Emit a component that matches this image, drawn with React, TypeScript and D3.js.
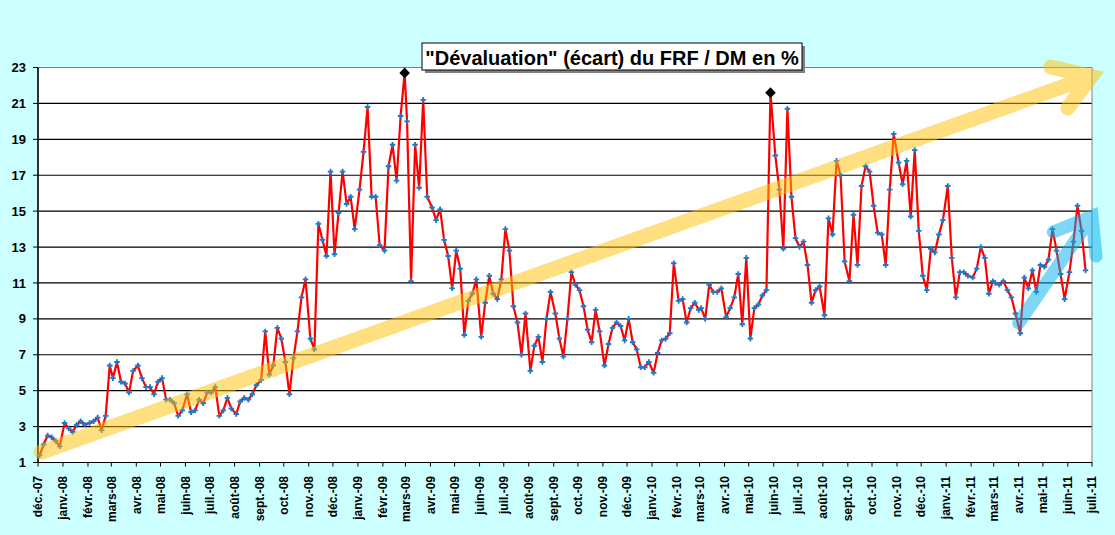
import * as d3 from "d3";

// one reading every ~5 days, on these days of each month
const sampleDays = [3, 8, 13, 18, 23, 28];

// déc. 2007
const v2007 = [[1.4, 2.0, 2.5, 2.4, 2.2, 1.9]];
const v2008 = [
  [3.2, 2.9, 2.7, 3.1, 3.3, 3.1],
  [3.2, 3.3, 3.5, 2.8, 3.6, 6.4],
  [5.7, 6.6, 5.5, 5.4, 4.9, 6.1],
  [6.4, 5.7, 5.2, 5.2, 4.8, 5.5],
  [5.7, 4.5, 4.5, 4.3, 3.6, 3.9],
  [4.8, 3.8, 3.9, 4.5, 4.3, 4.9],
  [4.9, 5.2, 3.6, 3.9, 4.6, 4.0],
  [3.7, 4.4, 4.6, 4.5, 4.8, 5.3],
  [5.6, 8.3, 5.9, 6.4, 8.5, 7.9],
  [6.6, 4.8, 6.8, 8.3, 10.2, 11.2],
  [7.9, 7.3, 14.3, 13.4, 12.5, 17.2],
  [12.6, 14.9, 17.2, 15.4, 15.8, 14.0],
];
const v2009 = [
  [16.2, 18.3, 20.8, 15.8, 15.8, 13.1],
  [12.8, 17.5, 18.7, 16.7, 20.3, 22.7],
  [20.0, 11.1, 18.7, 16.3, 21.2, 15.8],
  [15.2, 14.5, 15.1, 13.4, 12.5, 10.7],
  [12.8, 11.8, 8.1, 10.0, 10.4, 11.2],
  [8.0, 9.9, 11.4, 10.4, 10.1, 11.2],
  [14.0, 12.8, 9.7, 8.8, 7.0, 9.3],
  [6.1, 7.5, 8.0, 6.6, 9.0, 10.5],
  [9.3, 7.9, 6.9, 9.0, 11.6, 10.9],
  [10.6, 9.7, 8.4, 7.7, 9.5, 8.3],
  [6.4, 7.6, 8.5, 8.8, 8.6, 7.8],
  [9.0, 7.7, 7.3, 6.3, 6.3, 6.6],
];
const v2010 = [
  [6.0, 7.1, 7.8, 7.9, 8.2, 12.1],
  [10.0, 10.1, 8.8, 9.6, 9.9, 9.5],
  [9.6, 9.0, 10.9, 10.5, 10.5, 10.7],
  [9.1, 9.6, 10.2, 11.5, 8.7, 12.4],
  [7.9, 9.6, 9.8, 10.3, 10.6, 21.6],
  [18.1, 16.2, 12.9, 20.7, 15.8, 13.5],
  [13.0, 13.3, 12.0, 9.9, 10.6, 10.8],
  [9.2, 14.6, 13.7, 17.8, 17.0, 12.2],
  [11.1, 14.8, 12.0, 16.4, 17.5, 17.2],
  [15.3, 13.8, 13.7, 12.0, 16.2, 19.3],
  [17.7, 16.5, 17.8, 14.7, 18.4, 13.9],
  [11.4, 10.6, 12.9, 12.7, 13.7, 14.5],
];
const v2011 = [
  [16.4, 12.4, 10.2, 11.6, 11.6, 11.4],
  [11.3, 11.8, 13.0, 12.4, 10.4, 11.1],
  [11.0, 10.9, 11.1, 10.6, 10.2, 9.3],
  [8.2, 11.3, 10.7, 11.7, 10.5, 12.0],
  [11.9, 12.3, 14.0, 12.8, 11.5, 10.1],
  [11.6, 13.3, 15.3, 13.9, 11.7],
];

const years = [
  { year: 2007, firstMonth: 11, values: v2007 },
  { year: 2008, firstMonth: 0, values: v2008 },
  { year: 2009, firstMonth: 0, values: v2009 },
  { year: 2010, firstMonth: 0, values: v2010 },
  { year: 2011, firstMonth: 0, values: v2011 },
];

const monthLabels = ["janv.", "févr.", "mars", "avr.", "mai", "juin", "juil.", "août", "sept.", "oct.", "nov.", "déc."];
const yTicks = d3.range(1, 24, 2);
const peakDates = ["2009-02-28", "2010-05-28"];

// hand-drawn arrows, in chart units (date, %)
const trendShaft: [string, number][] = [["2007-12-05", 1.58], ["2011-06-30", 22.5]];
const trendHead: [string, number][] = [["2011-05-11", 23.03], ["2011-06-30", 22.5], ["2011-06-01", 20.75]];
const reboundShaft: [string, number][] = [["2011-04-01", 8.77], ["2011-07-01", 14.71]];
const reboundHead: [string, number][] = [["2011-05-14", 13.84], ["2011-07-01", 14.71], ["2011-07-06", 12.5]];

interface Point {
  date: Date;
  value: number;
}

const parse = d3.timeParse("%Y-%m-%d");
const fmt = d3.timeFormat("%Y-%m-%d");

const series: Point[] = [];
years.forEach(({ year, firstMonth, values }) => {
  values.forEach((month, m) => {
    month.forEach((v, i) => {
      series.push({ date: new Date(year, firstMonth + m, sampleDays[i]), value: v });
    });
  });
});

const font = "Arial, 'Liberation Sans', sans-serif";

export default function App() {
  const width = 1115;
  const height = 535;
  const left = 38;
  const right = 1092;
  const top = 67.5;
  const bottom = 462.5;

  const x = d3.scaleTime().domain([new Date(2007, 11, 1), new Date(2011, 6, 1)]).range([left, right]);
  const y = d3.scaleLinear().domain([1, 23]).range([bottom, top]);

  const line = d3.line<Point>().x(d => x(d.date)).y(d => y(d.value));
  const arrowLine = (pts: [string, number][]) =>
    d3.line()(pts.map(([d, v]) => [x(parse(d) as Date), y(v)] as [number, number])) as string;

  const months = d3.timeMonth.range(new Date(2007, 11, 1), new Date(2011, 6, 2));
  const cross = d3.symbol().type(d3.symbolCross).size(17)() as string;
  const diamond = d3.symbol().type(d3.symbolSquare).size(56)() as string;
  const peaks = series.filter(d => peakDates.includes(fmt(d.date)));

  return (
    <svg width={width} height={height} style={{ position: "absolute", left: 0, top: 0 }}>
      <rect width={width} height={height} fill="#ccffff" />
      <rect x={left} y={top} width={right - left} height={bottom - top} fill="#fff" />

      {yTicks.filter(t => t > 1 && t < 23).map(t => (
        <line key={t} x1={left} x2={right} y1={y(t)} y2={y(t)} stroke="#000" strokeWidth={1.2} />
      ))}
      <rect x={left} y={top} width={right - left} height={bottom - top} fill="none" stroke="#808080" />
      <line x1={left} x2={left} y1={top} y2={bottom} stroke="#000" strokeWidth={1.5} />
      <line x1={left} x2={right} y1={bottom} y2={bottom} stroke="#000" strokeWidth={1.2} />

      {yTicks.map(t => (
        <g key={t}>
          <line x1={left - 5} x2={left} y1={y(t)} y2={y(t)} stroke="#000" />
          <text x={26} y={y(t)} dy="0.35em" textAnchor="end" fontFamily={font} fontWeight="bold" fontSize={13}>
            {t}
          </text>
        </g>
      ))}

      {months.map(m => (
        <g key={m.getTime()}>
          <line x1={x(m)} x2={x(m)} y1={bottom} y2={bottom + 4} stroke="#000" />
          <text
            transform={`translate(${x(m)},476) rotate(-90)`}
            dy="0.35em"
            textAnchor="end"
            fontFamily={font}
            fontWeight="bold"
            fontSize={12}
          >
            {`${monthLabels[m.getMonth()]}-${String(m.getFullYear()).slice(2)}`}
          </text>
        </g>
      ))}

      <path d={line(series) as string} fill="none" stroke="#ff0000" strokeWidth={2.2} strokeLinejoin="round" />
      {series.map((d, i) => (
        <path key={i} d={cross} transform={`translate(${x(d.date)},${y(d.value)})`} fill="#1f78c8" />
      ))}
      {peaks.map((d, i) => (
        <path key={i} d={diamond} transform={`translate(${x(d.date)},${y(d.value)}) rotate(45)`} fill="#000" />
      ))}

      <g opacity={0.5} fill="none" stroke="#ffc000" strokeWidth={15} strokeLinecap="round" strokeLinejoin="miter">
        <path d={arrowLine(trendShaft)} />
        <path d={arrowLine(trendHead)} />
      </g>
      <g opacity={0.5} fill="none" stroke="#00b0f0" strokeWidth={13} strokeLinecap="round" strokeLinejoin="miter">
        <path d={arrowLine(reboundShaft)} />
        <path d={arrowLine(reboundHead)} />
      </g>

      <rect x={425} y={46} width={380} height={27} fill="#808080" />
      <rect x={422} y={43} width={380} height={27} fill="#fff" stroke="#000" />
      <text x={612} y={64.5} textAnchor="middle" fontFamily={font} fontWeight="bold" fontSize={20}>
        "Dévaluation" (écart) du FRF / DM en %
      </text>
    </svg>
  );
}
